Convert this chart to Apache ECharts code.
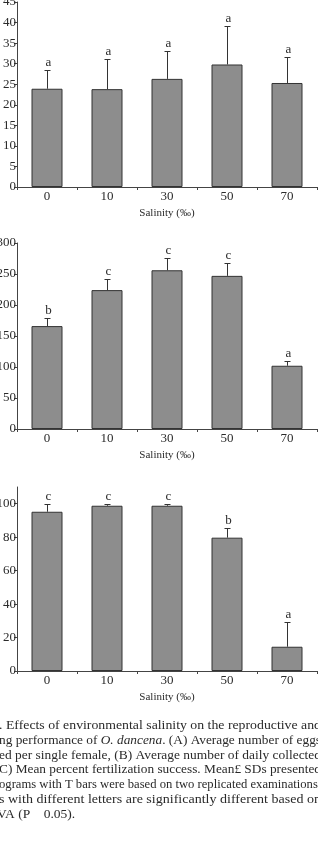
<!DOCTYPE html>
<html>
<head>
<meta charset="utf-8">
<script src="https://cdn.jsdelivr.net/npm/echarts@6/dist/echarts.min.js"></script>
<style>
html,body{margin:0;padding:0;background:#fff;}
#c{width:318px;height:851px;}
</style>
</head>
<body>
<div id="c"></div>
<script>
// ---- data ----
const categories = ['0', '10', '30', '50', '70'];
const axisName = 'Salinity (‰)';

const eggMean = [23.9, 23.8, 26.3, 29.8, 25.3];
const eggSD = [4.5, 7.3, 6.9, 9.4, 6.3];
const eggLetters = ['a', 'a', 'a', 'a', 'a'];
const eggTicks = [0, 5, 10, 15, 20, 25, 30, 35, 40, 45];

const dailyMean = [166, 224, 256, 247, 102];
const dailySD = [12.6, 17.7, 20.4, 20.0, 7.5];
const dailyLetters = ['b', 'c', 'c', 'c', 'a'];
const dailyTicks = [0, 50, 100, 150, 200, 250, 300];

const fertMean = [95.2, 98.8, 98.8, 79.7, 14.5];
const fertSD = [4.8, 1.2, 0.8, 5.8, 14.5];
const fertLetters = ['c', 'c', 'c', 'b', 'a'];
const fertTicks = [0, 20, 40, 60, 80, 100];
const fertMax = 110;

const captionLines = [
  '. Effects of environmental salinity on the reproductive and',
  'ng performance of {i|O. dancena}. (A) Average number of eggs',
  'ed per single female, (B) Average number of daily collected',
  'C) Mean percent fertilization success. Mean£ SDs presented',
  'ograms with T bars were based on two replicated examinations.',
  's with different letters are significantly different based on',
  'VA (P    0.05).'
];

// ---- styles ----
const FONT = 'Liberation Serif';
const axisColor = '#444';
const textColor = '#2a2a2a';
const barFill = '#8d8d8d';
const barBorder = '#333';

const grids = [
  {left: 17, right: 1, top: 2, height: 185, containLabel: false, outerBoundsMode: 'none'},
  {left: 17, right: 1, top: 243, height: 186, containLabel: false, outerBoundsMode: 'none'},
  {left: 17, right: 1, top: 487, height: 184, containLabel: false, outerBoundsMode: 'none'}
];

const panels = [
  {mean: eggMean, sd: eggSD, letters: eggLetters, ticks: eggTicks, max: 45},
  {mean: dailyMean, sd: dailySD, letters: dailyLetters, ticks: dailyTicks, max: 300},
  {mean: fertMean, sd: fertSD, letters: fertLetters, ticks: fertTicks, max: fertMax}
];

const xAxes = [], yAxes = [], series = [];
panels.forEach((p, i) => {
  xAxes.push({
    type: 'category', gridIndex: i, data: categories, boundaryGap: true,
    axisLine: {lineStyle: {color: axisColor, width: 1}},
    axisTick: {show: true, length: 3, lineStyle: {color: axisColor}},
    axisLabel: {color: textColor, fontFamily: FONT, fontSize: 13, margin: 3},
    name: axisName, nameLocation: 'middle', nameGap: 21,
    nameTextStyle: {color: textColor, fontFamily: FONT, fontSize: 11}
  });
  yAxes.push({
    type: 'value', gridIndex: i, min: 0, max: p.max,
    interval: p.ticks[1] - p.ticks[0],
    splitLine: {show: false},
    axisLine: {show: true, lineStyle: {color: axisColor, width: 1}},
    axisTick: {show: true, length: 3, lineStyle: {color: axisColor}, customValues: p.ticks},
    axisLabel: {color: textColor, fontFamily: FONT, fontSize: 13, margin: 1, customValues: p.ticks}
  });
  series.push({
    type: 'bar', xAxisIndex: i, yAxisIndex: i, data: p.mean, barWidth: 31,
    itemStyle: {color: barFill, borderColor: barBorder, borderWidth: 1},
    silent: true
  });
  const errData = p.mean.map((m, k) => [k, m, p.sd[k], p.letters[k]]);
  series.push({
    type: 'custom', xAxisIndex: i, yAxisIndex: i, data: errData, silent: true,
    z: 5,
    renderItem: function (params, api) {
      const k = api.value(0);
      const m = api.value(1);
      const s = api.value(2);
      const base = api.coord([k, m]);
      const top = api.coord([k, m + s]);
      const letter = errData[params.dataIndex][3];
      const cx = Math.round(base[0]) + 0.5;
      const ty = Math.round(top[1]) + 0.5;
      return {
        type: 'group',
        children: [
          {type: 'line', shape: {x1: cx, y1: base[1], x2: cx, y2: ty}, style: {stroke: '#333', lineWidth: 1}},
          {type: 'line', shape: {x1: cx - 3, y1: ty, x2: cx + 3, y2: ty}, style: {stroke: '#333', lineWidth: 1}},
          {type: 'text', style: {text: letter, x: cx + 1, y: ty - 8, align: 'center', verticalAlign: 'middle',
            fontFamily: FONT, fontSize: 13, fill: textColor}}
        ]
      };
    }
  });
});

// caption: stretch each line to span the page width
const mctx = document.createElement('canvas').getContext('2d');
function measure(line, size) {
  const parts = line.split(/(\{i\|[^}]*\})/);
  let w = 0;
  parts.forEach(pt => {
    const m = pt.match(/^\{i\|([^}]*)\}$/);
    if (m) { mctx.font = 'italic ' + size + 'px "' + FONT + '"'; w += mctx.measureText(m[1]).width; }
    else { mctx.font = size + 'px "' + FONT + '"'; w += mctx.measureText(pt).width; }
  });
  return w;
}
const capSize = 13.5;
const capTop = 725.5, capStep = 14.8;
const graphics = captionLines.map((line, i) => {
  const full = i < captionLines.length - 1;
  const w = measure(line, capSize);
  const target = 322;
  const sx = full ? target / w : 1;
  return {
    type: 'text', x: full ? -1 : -3, y: capTop + i * capStep, scaleX: sx, silent: true,
    style: {
      text: line, fontFamily: FONT, fontSize: capSize, fill: textColor, verticalAlign: 'middle',
      rich: {i: {fontStyle: 'italic', fontFamily: FONT, fontSize: capSize, fill: textColor}}
    }
  };
});

const chart = echarts.init(document.getElementById('c'), null, {renderer: 'canvas'});
chart.setOption({
  animation: false,
  backgroundColor: '#fff',
  grid: grids,
  xAxis: xAxes,
  yAxis: yAxes,
  series: series,
  graphic: graphics
});
</script>
</body>
</html>
